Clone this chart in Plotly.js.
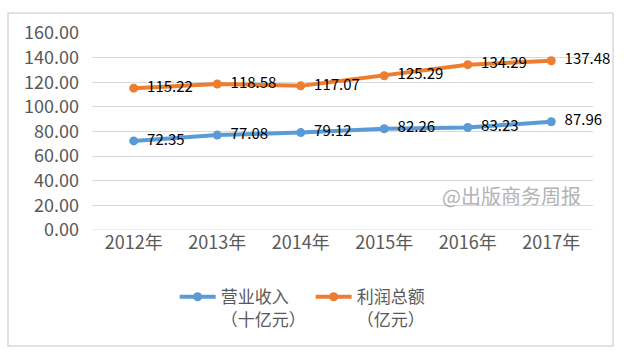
<!DOCTYPE html>
<html><head><meta charset="utf-8">
<script src="https://cdn.plot.ly/plotly-3.0.1.min.js"></script>
<style>body{margin:0;background:#fff}#c{width:626px;height:363px}</style>
</head><body><div id="c"></div>
<script>
const years = ['2012年','2013年','2014年','2015年','2016年','2017年'];
const revenue = [72.35, 77.08, 79.12, 82.26, 83.23, 87.96];
const profit = [115.22, 118.58, 117.07, 125.29, 134.29, 137.48];
const revenueName = '营业收入<br>（十亿元）';
const profitName = '利润总额<br>（亿元）';
const yTicks = [0,20,40,60,80,100,120,140,160];

const F = '"Noto Sans CJK SC", "Microsoft YaHei", sans-serif';
const fmt = v => '  ' + v.toFixed(2);

const traces = [
  {x: years, y: revenue, name: revenueName, type: 'scatter', mode: 'lines+markers+text',
   line: {color: '#5B9BD5', width: 4}, marker: {color: '#5B9BD5', size: 9},
   text: revenue.map(fmt), textposition: 'middle right',
   textfont: {family: F, size: 15, color: '#000'}, cliponaxis: false},
  {x: years, y: profit, name: profitName, type: 'scatter', mode: 'lines+markers+text',
   line: {color: '#ED7D31', width: 4}, marker: {color: '#ED7D31', size: 9},
   text: profit.map(fmt), textposition: 'middle right',
   textfont: {family: F, size: 15, color: '#000'}, cliponaxis: false}
];

const layout = {
  width: 626, height: 363,
  margin: {l: 92, r: 33, t: 33, b: 133, autoexpand: false},
  paper_bgcolor: '#fff', plot_bgcolor: '#fff',
  font: {family: F, color: '#595959'},
  showlegend: true,
  legend: {orientation: 'h', x: 0.165, xanchor: 'left', y: -0.25, yanchor: 'top',
           font: {family: F, size: 17, color: '#595959'}, valign: 'top',
           itemwidth: 36, traceorder: 'normal'},
  xaxis: {type: 'category', range: [-0.5, 5.5], showgrid: false, zeroline: false,
          showline: false, ticks: '', tickfont: {family: F, size: 18, color: '#595959'},
          fixedrange: true, automargin: false},
  yaxis: {range: [0, 160], tickvals: yTicks, ticktext: yTicks.map(v => v.toFixed(2)),
          showgrid: true, gridcolor: '#d9d9d9', gridwidth: 1, zeroline: false,
          showline: false, ticks: '', ticklabelstandoff: 12, automargin: false,
          tickfont: {family: F, size: 18, color: '#595959'}, fixedrange: true},
  shapes: [
    {type: 'rect', xref: 'paper', yref: 'paper',
     x0: -84/501, x1: 1 + 20/501, y0: -116/197, y1: 1 + 20/197,
     line: {color: '#d9d9d9', width: 1.5}, fillcolor: 'rgba(0,0,0,0)', layer: 'below'},
    {type: 'line', xref: 'paper', yref: 'y', x0: 0, x1: 1, y0: 0, y1: 0,
     line: {color: '#d9d9d9', width: 1}}
  ],
  annotations: [
    {text: '@出版商务周报', xref: 'paper', yref: 'paper', x: 0.98, y: 0.177,
     xanchor: 'right', yanchor: 'middle', showarrow: false,
     font: {family: F, size: 20, color: '#b3b3b3'}}
  ]
};
Plotly.newPlot('c', traces, layout, {displayModeBar: false, staticPlot: true});
</script></body></html>
